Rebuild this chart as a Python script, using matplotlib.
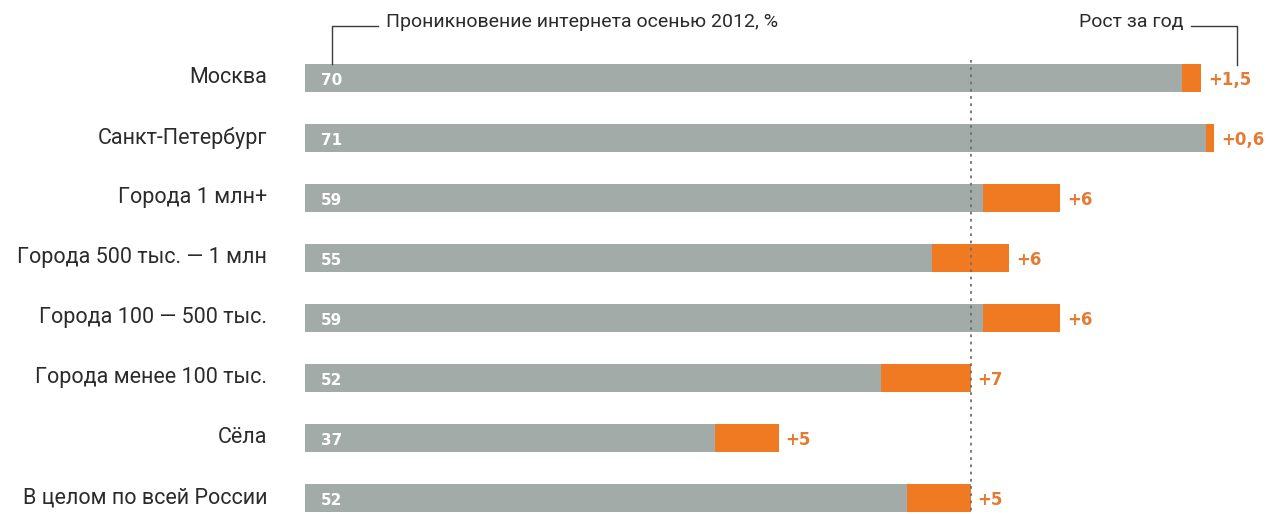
"""Internet penetration in Russia by settlement type, autumn 2012."""

import matplotlib.pyplot as plt

plt.rcParams["font.family"] = ["Roboto", "DejaVu Sans"]

# ── data ────────────────────────────────────────────────────────────────
categories = [
    "Москва",
    "Санкт-Петербург",
    "Города 1 млн+",
    "Города 500 тыс. — 1 млн",
    "Города 100 — 500 тыс.",
    "Города менее 100 тыс.",
    "Сёла",
    "В целом по всей России",
]
penetration_2012 = [70, 71, 59, 55, 59, 52, 37, 52]
growth = [1.5, 0.6, 6, 6, 6, 7, 5, 5]
growth_labels = ["+1,5", "+0,6", "+6", "+6", "+6", "+7", "+5", "+5"]
russia_avg = 52

GRAY = "#a3aba8"
ORANGE = "#f07a22"
ORANGE_TXT = "#e57a33"
TEXT = "#2b2b2b"

# previous-year level is the 2012 value minus the growth
base = [v - g for v, g in zip(penetration_2012, growth)]
rows = list(range(len(categories)))

fig = plt.figure(figsize=(12.74, 5.14), dpi=100)
ax = fig.add_axes([305 / 1274, 0, 969 / 1274, 1])
ax.set_xlim(0, 969 / 12.8)
ax.set_ylim(7.267, -1.3)
ax.axis("off")

h = 0.48
ax.barh(rows, base, height=h, color=GRAY, linewidth=0)
ax.barh(rows, growth, left=base, height=h, color=ORANGE, linewidth=0)

# average line
ax.plot([russia_avg, russia_avg], [-0.3, 7.267], color="#6f6f6f",
        linestyle=(0, (1.5, 2.5)), linewidth=1.3, zorder=3)

for i, (cat, v, lab) in enumerate(zip(categories, penetration_2012, growth_labels)):
    ax.text(-2.95, i, cat, ha="right", va="center", fontsize=15.5, color=TEXT)
    ax.text(1.25, i + 0.04, str(v), ha="left", va="center", fontsize=11,
            fontweight="bold", color="white", family="DejaVu Sans")
    ax.text(v + 0.55, i + 0.04, lab, ha="left", va="center", fontsize=12,
            fontweight="bold", color=ORANGE_TXT, family="DejaVu Sans")

# top callouts
lc = "#3a3a3a"
ax.plot([2.1, 2.1, 5.7], [-0.24, -0.87, -0.87], color=lc, linewidth=1)
ax.text(6.3, -0.93, "Проникновение интернета осенью 2012, %", ha="left",
        va="center", fontsize=14, color=TEXT)
ax.plot([69.2, 72.8, 72.8], [-0.87, -0.87, -0.22], color=lc, linewidth=1)
ax.text(68.6, -0.93, "Рост за год", ha="right", va="center",
        fontsize=14, color=TEXT)

fig.savefig("out.png", dpi=100)
